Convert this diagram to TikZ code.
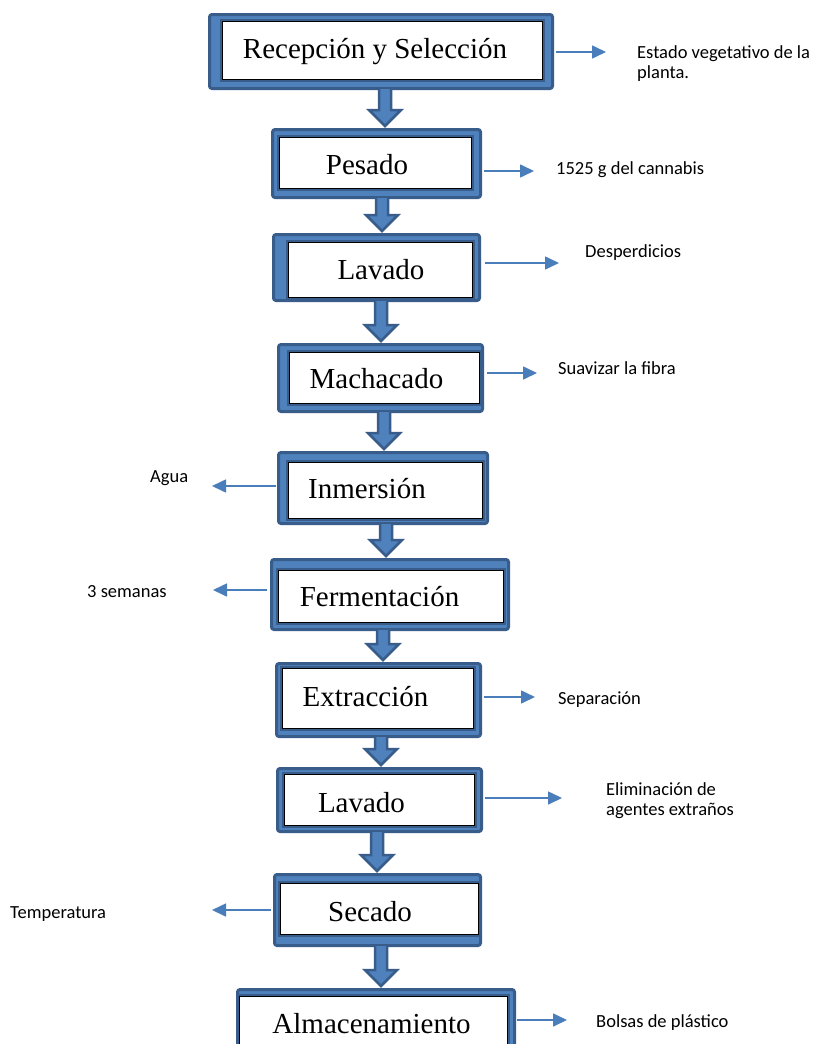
\documentclass[tikz,border=0pt]{standalone}
\usepackage{fontspec}
\setmainfont{Liberation Serif}
\newfontfamily\labelfont{Carlito}
\usetikzlibrary{arrows.meta,calc}
\definecolor{frameDark}{HTML}{385D8A}
\definecolor{frameLight}{HTML}{4F81BD}
\definecolor{lineBlue}{HTML}{4A7EBB}

% thick block arrow between two process boxes: #1 from, #2 to, #3 x position
\newcommand\flowarrow[3]{%
  \draw[fatarrow] let \p1=(#1.south), \p2=(#2.north) in
    ({#3pt-6pt},{\y1+1pt}) -- ({#3pt-6pt},{\y2+18pt}) -- ({#3pt-16pt},{\y2+18pt})
    -- ({#3pt},{\y2+2pt}) -- ({#3pt+16pt},{\y2+18pt}) -- ({#3pt+6pt},{\y2+18pt})
    -- ({#3pt+6pt},{\y1+1pt});
}

\begin{document}
\begin{tikzpicture}[x=1pt,y=-1pt,
  boxframe/.style={draw=frameDark, fill=frameLight, line width=3pt,
    rounded corners=2.5pt, inner sep=0pt},
  boxpanel/.style={draw=black, line width=0.6pt, fill=white, inner sep=0pt,
    preaction={draw=frameDark, line width=5pt}},
  boxtext/.style={font=\fontsize{29}{32}\selectfont, inner sep=0pt, anchor=base},
  fatarrow/.style={draw=frameDark, fill=frameLight, line width=2.5pt, line join=miter},
  sidearrow/.style={draw=lineBlue, line width=1.6pt,
    -{Triangle[length=14pt,width=13pt]}},
  sidelabel/.style={font=\labelfont\fontsize{18.5}{20}\selectfont, inner sep=0pt,
    anchor=base west, align=left}]

\useasboundingbox (0,0) rectangle (815,1044);
\clip (0,0) rectangle (815,1044);
\fill[white] (0,0) rectangle (815,1044);

% frames
\node[boxframe, minimum width=343pt, minimum height=74pt] (o1) at (381,51.5) {};
\node[boxframe, minimum width=208pt, minimum height=68pt] (o2) at (376.5,163.5) {};
\node[boxframe, minimum width=206pt, minimum height=66pt] (o3) at (376.5,267.5) {};
\node[boxframe, minimum width=204pt, minimum height=67pt] (o4) at (380.5,378) {};
\node[boxframe, minimum width=209pt, minimum height=71pt] (o5) at (383,488) {};
\node[boxframe, minimum width=237pt, minimum height=70pt] (o6) at (390,594.5) {};
\node[boxframe, minimum width=204pt, minimum height=73pt] (o7) at (378.5,700) {};
\node[boxframe, minimum width=204pt, minimum height=63pt] (o8) at (379.5,800) {};
\node[boxframe, minimum width=206pt, minimum height=71pt] (o9) at (377.5,910) {};
\node[boxframe, minimum width=277pt, minimum height=79pt] (o10) at (376,1029) {};

% white panels
\node[boxpanel, minimum width=320pt, minimum height=58pt] (w1) at (382,50) {};
\node[boxpanel, minimum width=192pt, minimum height=51pt] (w2) at (375,162.5) {};
\node[boxpanel, minimum width=184pt, minimum height=55pt] (w3) at (380,269.5) {};
\node[boxpanel, minimum width=190pt, minimum height=51pt] (w4) at (384,377.5) {};
\node[boxpanel, minimum width=194pt, minimum height=56pt] (w5) at (385,490) {};
\node[boxpanel, minimum width=225pt, minimum height=52pt] (w6) at (390.5,596) {};
\node[boxpanel, minimum width=191pt, minimum height=60pt] (w7) at (377.5,698) {};
\node[boxpanel, minimum width=190pt, minimum height=51pt] (w8) at (379,799.5) {};
\node[boxpanel, minimum width=198pt, minimum height=51pt] (w9) at (379,908.5) {};
\node[boxpanel, minimum width=268pt, minimum height=74pt] (w10) at (373,1033) {};

% step names
\node[boxtext] (t1) at (375,58.3) {Recepción y Selección};
\node[boxtext] (t2) at (367,174) {Pesado};
\node[boxtext] (t3) at (381,279) {Lavado};
\node[boxtext] (t4) at (376.5,388) {Machacado};
\node[boxtext] (t5) at (367,498) {Inmersión};
\node[boxtext] (t6) at (379.5,606) {Fermentación};
\node[boxtext] (t7) at (365.5,706) {Extracción};
\node[boxtext] (t8) at (361.5,812) {Lavado};
\node[boxtext] (t9) at (370,921) {Secado};
\node[boxtext] (t10) at (371.5,1033) {Almacenamiento};

% block arrows between steps
\flowarrow{o1}{o2}{385}
\flowarrow{o2}{o3}{382}
\flowarrow{o3}{o4}{381}
\flowarrow{o4}{o5}{384}
\flowarrow{o5}{o6}{386}
\flowarrow{o6}{o7}{383}
\flowarrow{o7}{o8}{381}
\flowarrow{o8}{o9}{377}
\flowarrow{o9}{o10}{381}

% side notes
\coordinate (e1) at (606,52);
\coordinate (e2) at (534,171);
\coordinate (e3) at (559,263);
\coordinate (e4) at (537,373);
\coordinate (e5) at (212,486);
\coordinate (e6) at (213,590);
\coordinate (e7) at (535,697);
\coordinate (e8) at (562,798);
\coordinate (e9) at (212,910);
\coordinate (e10) at (567,1020);

\draw[sidearrow, shorten <=2pt] (o1.east |- e1) -- (e1);
\draw[sidearrow, shorten <=2pt] (o2.east |- e2) -- (e2);
\draw[sidearrow, shorten <=4pt] (o3.east |- e3) -- (e3);
\draw[sidearrow, shorten <=3pt] (o4.east |- e4) -- (e4);
\draw[sidearrow, shorten <=1pt] (o5.west |- e5) -- (e5);
\draw[sidearrow, shorten <=3pt] (o6.west |- e6) -- (e6);
\draw[sidearrow, shorten <=2pt] (o7.east |- e7) -- (e7);
\draw[sidearrow, shorten <=2pt] (o8.east |- e8) -- (e8);
\draw[sidearrow, shorten <=2pt] (o9.west |- e9) -- (e9);
\draw[sidearrow, shorten <=1pt] (o10.east |- e10) -- (e10);

% two-line notes are placed by the baseline of their last line
\node[sidelabel] (n1) at (637,78) {Estado vegetativo de la\\planta.};
\node[sidelabel] (n2) at (556,174) {1525 g del cannabis};
\node[sidelabel] (n3) at (585,257) {Desperdicios};
\node[sidelabel] (n4) at (558,374) {Suavizar la fibra};
\node[sidelabel] (n5) at (150,482) {Agua};
\node[sidelabel] (n6) at (87,597) {3 semanas};
\node[sidelabel] (n7) at (558,704) {Separación};
\node[sidelabel] (n8) at (606,815) {Eliminación de\\agentes extraños};
\node[sidelabel] (n9) at (10,918) {Temperatura};
\node[sidelabel] (n10) at (596,1027) {Bolsas de plástico};
\end{tikzpicture}
\end{document}
